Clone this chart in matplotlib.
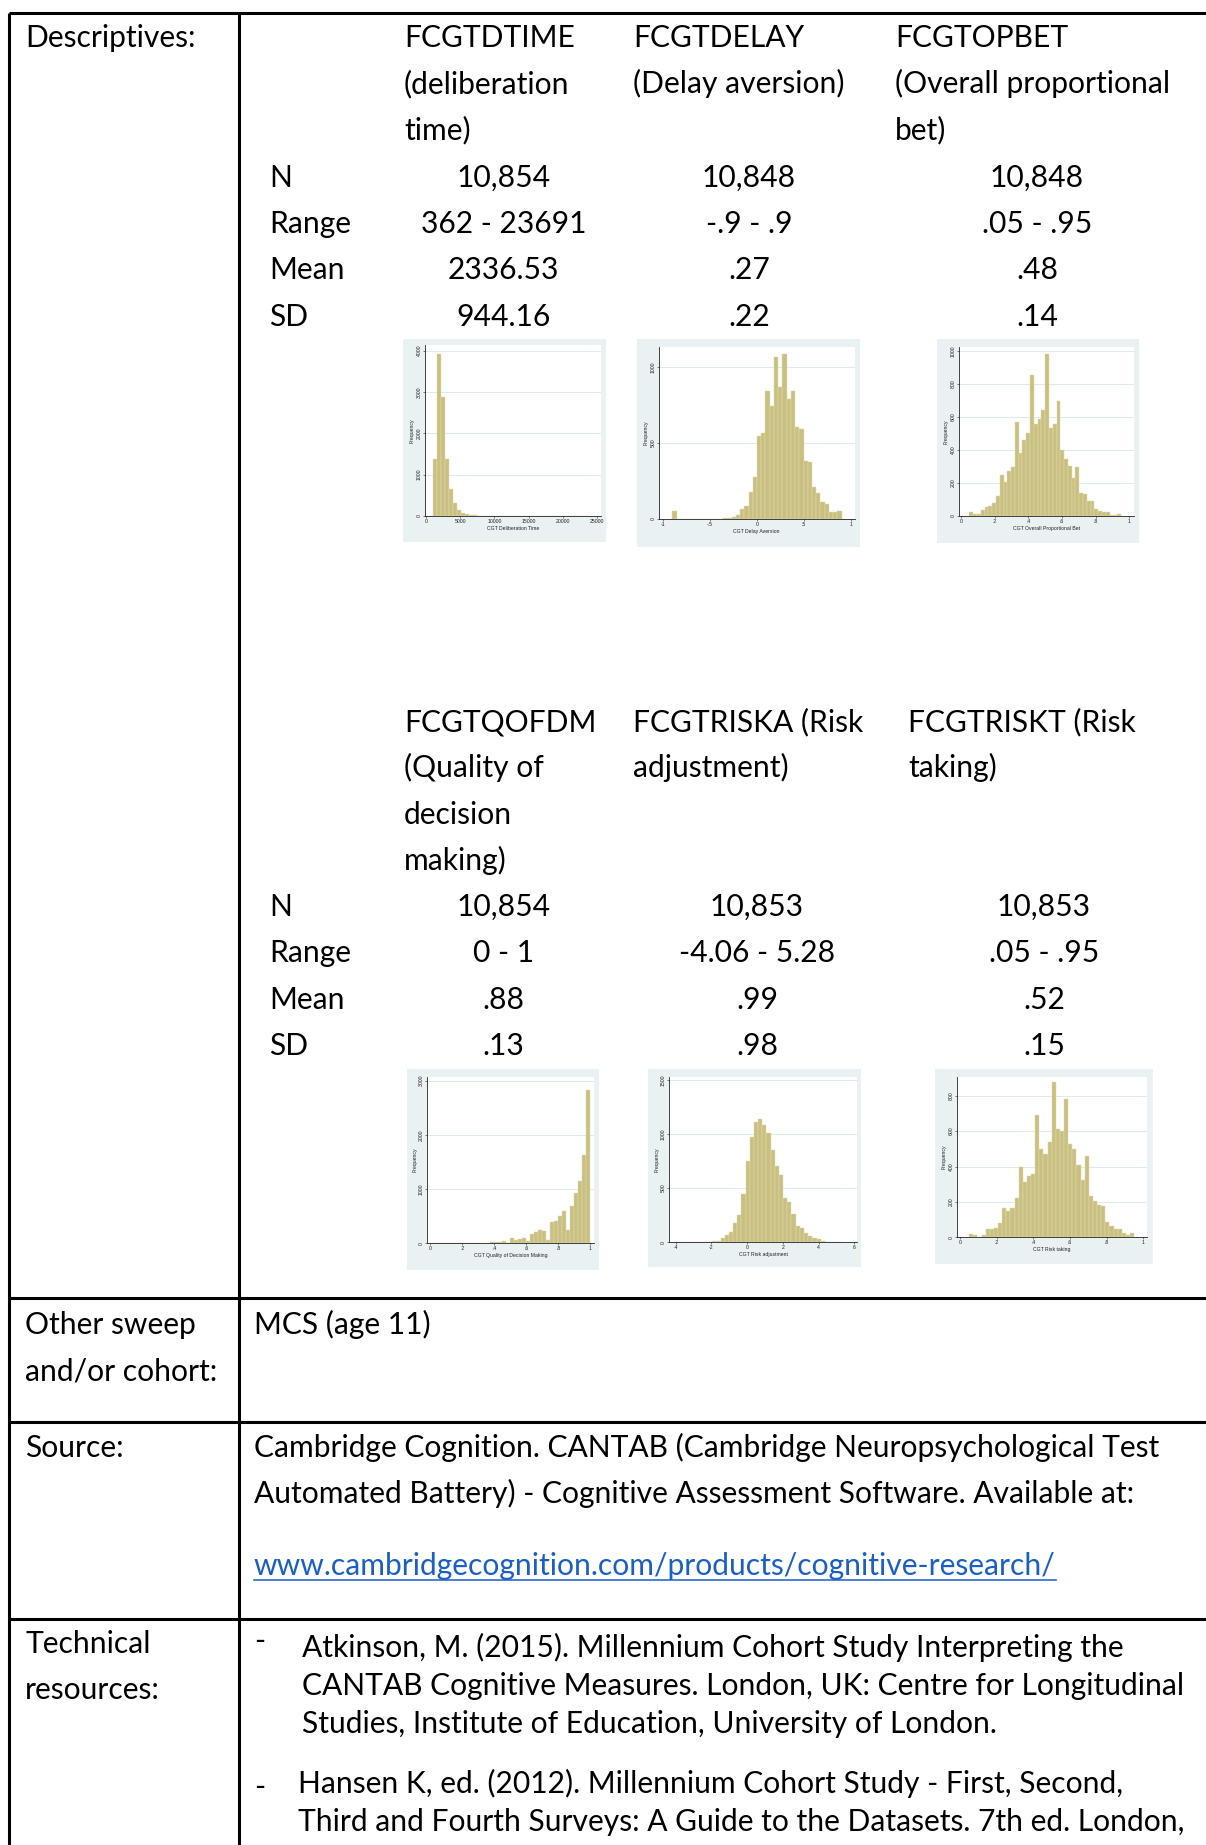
import numpy as np
import matplotlib
matplotlib.use("Agg")
import matplotlib.pyplot as plt
from matplotlib.patches import Rectangle

# ---------------- data ----------------
headers_top = [["FCGTDTIME", "(deliberation", "time)"],
               ["FCGTDELAY", "(Delay aversion)"],
               ["FCGTOPBET", "(Overall proportional", "bet)"]]
headers_bot = [["FCGTQOFDM", "(Quality of", "decision", "making)"],
               ["FCGTRISKA (Risk", "adjustment)"],
               ["FCGTRISKT (Risk", "taking)"]]
stat_names = ["N", "Range", "Mean", "SD"]
stats_top = [["10,854", "362 - 23691", "2336.53", "944.16"],
             ["10,848", "-.9 - .9", ".27", ".22"],
             ["10,848", ".05 - .95", ".48", ".14"]]
stats_bot = [["10,854", "0 - 1", ".88", ".13"],
             ["10,853", "-4.06 - 5.28", ".99", ".98"],
             ["10,853", ".05 - .95", ".52", ".15"]]

# histogram ranges (min, max) and 40 bin counts
hist_ranges = [(362, 23691), (-0.9, 0.9), (0.05, 0.95),
               (0.0, 1.0), (-4.06, 5.28), (0.05, 0.95)]
counts_dtime = [2, 1380, 3920, 2890, 1380, 650, 310, 145, 70, 40,
                25, 15, 10, 8, 6, 5, 4, 3, 3, 2,
                2, 1, 1, 1, 0, 0, 0, 0, 0, 0,
                0, 0, 0, 0, 0, 0, 0, 0, 0, 1]
counts_delay = [53, 0, 0, 0, 0, 0, 0, 0, 1, 3,
                2, 3, 4, 8, 15, 26, 66, 88, 180, 279,
                547, 567, 844, 745, 1066, 868, 1090, 791, 842, 607,
                593, 382, 376, 211, 171, 110, 101, 48, 46, 53]
counts_opbet = [22, 12, 10, 36, 55, 59, 77, 119, 246, 206,
                273, 295, 568, 380, 459, 503, 855, 558, 588, 642,
                980, 535, 556, 697, 400, 345, 301, 230, 297, 141,
                133, 89, 93, 42, 30, 24, 24, 6, 4, 12]
counts_qofdm = [1, 0, 1, 0, 1, 1, 1, 2, 2, 2,
                2, 3, 3, 5, 8, 15, 20, 30, 45, 5,
                90, 55, 85, 100, 50, 165, 200, 240, 220, 70,
                390, 420, 510, 590, 240, 680, 930, 1150, 1630, 2830]
counts_riska = [1, 1, 2, 1, 2, 2, 3, 3, 5, 8,
                10, 40, 68, 95, 175, 255, 450, 755, 970, 1115,
                1140, 1080, 1010, 855, 700, 620, 410, 370, 260, 150,
                130, 85, 60, 40, 30, 8, 5, 3, 2, 1]
counts_riskt = [18, 15, 3, 12, 45, 45, 50, 80, 165, 150,
                165, 220, 395, 310, 345, 360, 690, 500, 470, 540,
                880, 610, 600, 780, 530, 500, 410, 325, 460, 235,
                205, 185, 175, 88, 65, 45, 48, 25, 15, 22]
all_counts = [counts_dtime, counts_delay, counts_opbet,
              counts_qofdm, counts_riska, counts_riskt]
x_labels = ["CGT Deliberation Time", "CGT Delay Aversion",
            "CGT Overall Proportional Bet", "CGT Quality of Decision Making",
            "CGT Risk adjustment", "CGT Risk taking"]
x_ticks = [[0, 5000, 10000, 15000, 20000, 25000],
           [-1, -0.5, 0, 0.5, 1],
           [0, 0.2, 0.4, 0.6, 0.8, 1],
           [0, 0.2, 0.4, 0.6, 0.8, 1],
           [-4, -2, 0, 2, 4, 6],
           [0, 0.2, 0.4, 0.6, 0.8, 1]]
x_ticklabels = [["0", "5000", "10000", "15000", "20000", "25000"],
                ["-1", "-.5", "0", ".5", "1"],
                ["0", ".2", ".4", ".6", ".8", "1"],
                ["0", ".2", ".4", ".6", ".8", "1"],
                ["-4", "-2", "0", "2", "4", "6"],
                ["0", ".2", ".4", ".6", ".8", "1"]]
y_ticks = [[0, 1000, 2000, 3000, 4000],
           [0, 500, 1000],
           [0, 200, 400, 600, 800, 1000],
           [0, 1000, 2000, 3000],
           [0, 500, 1000, 1500],
           [0, 200, 400, 600, 800]]

other_sweep = "MCS (age 11)"
source_lines = ["Cambridge Cognition. CANTAB (Cambridge Neuropsychological Test",
                "Automated Battery) - Cognitive Assessment Software. Available at:"]
source_url = "www.cambridgecognition.com/products/cognitive-research/"
ref1 = ["Atkinson, M. (2015). Millennium Cohort Study Interpreting the",
        "CANTAB Cognitive Measures. London, UK: Centre for Longitudinal",
        "Studies, Institute of Education, University of London."]
ref2 = ["Hansen K, ed. (2012). Millennium Cohort Study - First, Second,",
        "Third and Fourth Surveys: A Guide to the Datasets. 7th ed. London,"]

# ---------------- layout ----------------
W, H = 1206, 1845
DPI = 100
fig = plt.figure(figsize=(W / DPI, H / DPI), dpi=DPI)
fig.patch.set_facecolor("white")

ov = fig.add_axes([0, 0, 1, 1], zorder=0)
ov.set_xlim(0, W)
ov.set_ylim(H, 0)
ov.axis("off")

FONT = "Lato"
FS = 21.6
TXT = dict(family=FONT, fontsize=FS, color="black", va="baseline")

def t(x, y, s, ha="left", **kw):
    d = dict(TXT)
    d.update(kw)
    ov.text(x, y, s, ha=ha, **d)

# table lines
LW = 2.2
ov.plot([9, W], [12.7, 12.7], color="black", lw=LW, solid_capstyle="butt")
ov.plot([9, 9], [12.7, H], color="black", lw=LW, solid_capstyle="butt")
ov.plot([238.5, 238.5], [12.7, H], color="black", lw=LW, solid_capstyle="butt")
for yy in [1297.5, 1422, 1619]:
    ov.plot([9, W], [yy, yy], color="black", lw=LW, solid_capstyle="butt")

LEFT = 25
LH = 46.3
t(LEFT, 46.7, "Descriptives:")

# top block
col_x_top = [404, 633, 895]
val_x_top = [503.5, 749, 1037]
for cx, lines in zip(col_x_top, headers_top):
    for i, s in enumerate(lines):
        t(cx, 46.7 + i * LH, s)
row_y_top = [186.7, 233, 279.3, 325.6]
for ry, nm in zip(row_y_top, stat_names):
    t(269, ry, nm)
for vx, vals in zip(val_x_top, stats_top):
    for ry, v in zip(row_y_top, vals):
        t(vx, ry, v, ha="center")

# bottom block
col_x_bot = [404, 633, 908]
val_x_bot = [503.5, 757, 1044]
for cx, lines in zip(col_x_bot, headers_bot):
    for i, s in enumerate(lines):
        t(cx, 731 + i * LH, s)
row_y_bot = [916, 962, 1009, 1055]
for ry, nm in zip(row_y_bot, stat_names):
    t(269, ry, nm)
for vx, vals in zip(val_x_bot, stats_bot):
    for ry, v in zip(row_y_bot, vals):
        t(vx, ry, v, ha="center")

# lower rows
t(LEFT, 1334, "Other sweep")
t(LEFT, 1380, "and/or cohort:")
t(254, 1334, other_sweep)
t(LEFT, 1457, "Source:")
t(254, 1457, source_lines[0])
t(254, 1503, source_lines[1])
url_color = "#1a5fc8"
ut = ov.text(254, 1575.5, source_url, ha="left", family=FONT, fontsize=FS,
             color=url_color, va="baseline")
fig.canvas.draw()
bb = ut.get_window_extent()
ov.plot([254, 254 + bb.width], [1580, 1580], color=url_color, lw=1.1)
t(LEFT, 1653, "Technical")
t(LEFT, 1699, "resources:")
t(254, 1650, "-")
for i, s in enumerate(ref1):
    t(302, 1657 + i * 38, s)
t(254, 1796, "-")
for i, s in enumerate(ref2):
    t(298, 1793.5 + i * 37.5, s)

# ---------------- histograms ----------------
bg_boxes = [(403, 339, 606, 542), (637, 339, 860, 547), (937, 339, 1139, 543),
            (407, 1069, 599, 1270), (648, 1069, 861, 1267), (935, 1069, 1153, 1264)]
plot_boxes = [(424.7, 345, 601, 516), (658.7, 346.7, 854.7, 519), (958.7, 346.7, 1133.7, 516),
              (427, 1076.7, 593.7, 1243.3), (669, 1076.7, 857, 1242.3), (956.7, 1076.7, 1146.7, 1237.3)]
xlims = [(-244, 25635), (-1.046, 1.039), (-0.0139, 1.026),
         (-0.0208, 1.021), (-4.376, 6.145), (-0.018, 1.018)]
ylims = [4137, 1136, 1026, 3073, 1529, 908]

BG = "#e9f1f3"
BAR = "#c9bf80"
BAR_EDGE = "#e2dcae"
GRID = "#dcebee"
SMALL = "Liberation Sans"
INK = "#222222"

for k in range(6):
    l, tp, r, b = bg_boxes[k]
    ov.add_patch(Rectangle((l, tp), r - l, b - tp, facecolor=BG, edgecolor="none", zorder=1))
    pl, pt, pr, pb = plot_boxes[k]
    ax = fig.add_axes([pl / W, 1 - pb / H, (pr - pl) / W, (pb - pt) / H], zorder=2)
    ax.set_facecolor("white")
    lo, hi = hist_ranges[k]
    edges = np.linspace(lo, hi, len(all_counts[k]) + 1)
    ax.bar(edges[:-1], all_counts[k], width=np.diff(edges), align="edge",
           color=BAR, edgecolor=BAR_EDGE, linewidth=0.35, zorder=3)
    ax.set_xlim(*xlims[k])
    ax.set_ylim(0, ylims[k])
    ax.set_xticks(x_ticks[k])
    ax.set_xticklabels(x_ticklabels[k])
    ax.set_yticks(y_ticks[k])
    ax.set_yticklabels([str(v) for v in y_ticks[k]], rotation=90, va="center")
    ax.yaxis.grid(True, color=GRID, lw=0.7, zorder=0)
    ax.set_axisbelow(True)
    for s in ["top", "right"]:
        ax.spines[s].set_visible(False)
    for s in ["left", "bottom"]:
        ax.spines[s].set_color(INK)
        ax.spines[s].set_linewidth(0.6)
    ax.tick_params(axis="both", labelsize=3.7, length=1.5, width=0.4, pad=0.8,
                   colors=INK)
    for lab in ax.get_xticklabels() + ax.get_yticklabels():
        lab.set_family(SMALL)
    ax.set_xlabel(x_labels[k], fontsize=3.7, family=SMALL, labelpad=1.0, color=INK)
    ax.set_ylabel("Frequency", fontsize=3.7, family=SMALL, labelpad=1.0, color=INK)

fig.savefig("out.png", dpi=DPI, facecolor="white")
